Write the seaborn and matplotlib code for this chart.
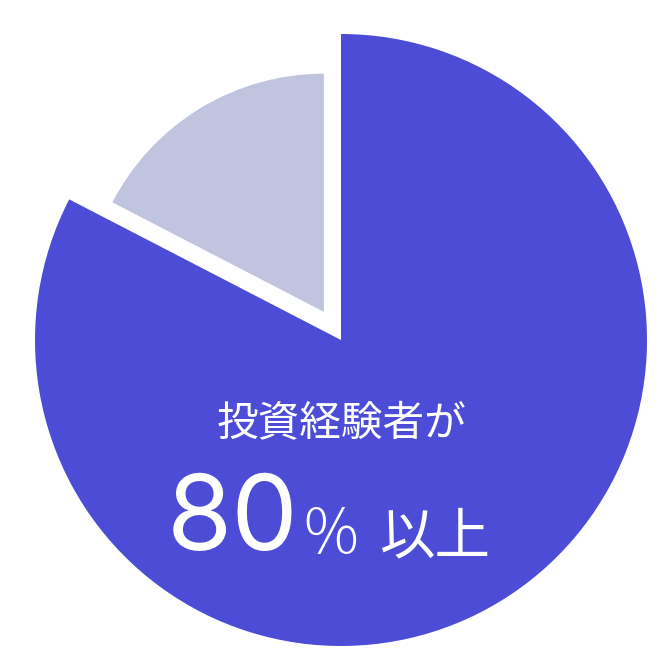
import matplotlib
matplotlib.use("Agg")
import matplotlib.pyplot as plt
import seaborn as sns

# Data
labels = ["投資経験あり", "投資経験なし"]
values = [82.6, 17.4]
colors = ["#4C4CD7", "#C0C4DE"]

sns.set_theme(style="white")
plt.rcParams["font.family"] = ["Noto Sans CJK JP", "DejaVu Sans"]

fig = plt.figure(figsize=(6.72, 6.72), dpi=100)
ax = fig.add_axes([0, 0, 1, 1])

# big slice (full radius)
ax.pie(values, colors=[colors[0], "none"], startangle=90, counterclock=False,
       radius=1.0, wedgeprops=dict(linewidth=0))
# small slice, exploded and smaller
ax.pie(values, colors=["none", colors[1]], startangle=90, counterclock=False,
       radius=0.778, explode=[0, 0.108], wedgeprops=dict(linewidth=0))

# center of pie at pixel (341, 340), radius 306 px
r_px = 306
ax.set_xlim(-341 / r_px, (672 - 341) / r_px)
ax.set_ylim(-(672 - 340) / r_px, 340 / r_px)
ax.set_aspect("equal")
ax.axis("off")

def fx(px):
    return px / 672

def fy(py):
    return 1 - py / 672

fig.text(fx(342), fy(425), "投資経験者が", color="white", fontsize=30,
         ha="center", va="center", family=["Noto Sans CJK JP", "DejaVu Sans"])
fig.text(fx(167), fy(550), "80", color="white", fontsize=76,
         ha="left", va="baseline", family=["Inter", "DejaVu Sans"])
fig.text(fx(303), fy(553), "%", color="white", fontsize=44, fontweight="light",
         ha="left", va="baseline", family=["Noto Sans CJK JP", "DejaVu Sans"])
fig.text(fx(379), fy(553), "以上", color="white", fontsize=40,
         ha="left", va="baseline", family=["Noto Sans CJK JP", "DejaVu Sans"])

fig.savefig("out.png", dpi=100, facecolor="white")
